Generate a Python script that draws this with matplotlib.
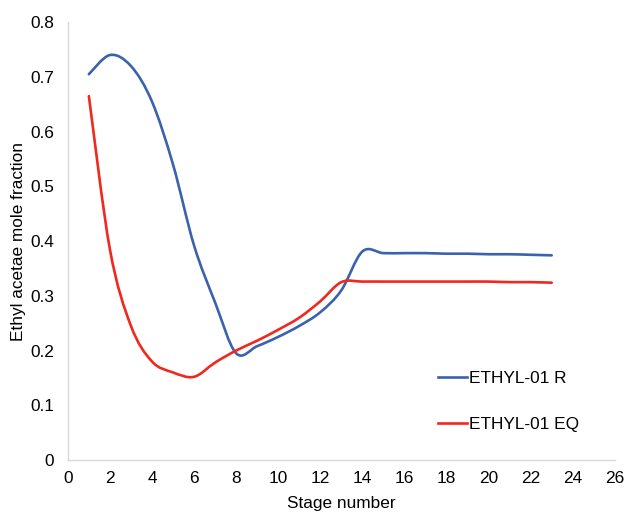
import numpy as np
import matplotlib.pyplot as plt
from matplotlib.path import Path
from matplotlib.patches import PathPatch
from matplotlib.lines import Line2D

plt.rcParams['font.family'] = ['Liberation Sans', 'DejaVu Sans']

# stage numbers and mole fractions for the two column models
stages = list(range(1, 24))
rate_based = [0.705, 0.740, 0.720, 0.655, 0.540, 0.392, 0.288, 0.195, 0.208,
              0.225, 0.245, 0.270, 0.310, 0.381, 0.378, 0.378, 0.378, 0.377,
              0.377, 0.376, 0.376, 0.375, 0.374]
equilibrium = [0.665, 0.385, 0.245, 0.180, 0.160, 0.152, 0.178, 0.200, 0.218,
               0.238, 0.260, 0.290, 0.325, 0.326, 0.326, 0.326, 0.326, 0.326,
               0.326, 0.326, 0.325, 0.325, 0.324]
labels = ['ETHYL-01 R', 'ETHYL-01 EQ']
colors = ['#3a62ad', '#f0281e']

fs = 12.4


def smooth_path(x, y):
    # bezier segments through every point, like a spreadsheet "smoothed line"
    pts = np.column_stack([x, y]).astype(float)
    n = len(pts)
    verts = [pts[0]]
    codes = [Path.MOVETO]
    for i in range(n - 1):
        p0 = pts[max(i - 1, 0)]
        p1 = pts[i]
        p2 = pts[i + 1]
        p3 = pts[min(i + 2, n - 1)]
        c1 = p1 + (p2 - p0) / 6.0
        c2 = p2 - (p3 - p1) / 6.0
        verts += [c1, c2, p2]
        codes += [Path.CURVE4] * 3
    return Path(verts, codes)


fig = plt.figure(figsize=(6.28, 5.12), dpi=100)
ax = fig.add_axes([0.108, 0.1016, 0.871, 0.855])

handles = []
for ys, lab, col in zip([rate_based, equilibrium], labels, colors):
    patch = PathPatch(smooth_path(stages, ys), facecolor='none', edgecolor=col,
                      lw=1.9, capstyle='round', joinstyle='round')
    ax.add_patch(patch)
    handles.append(Line2D([], [], color=col, lw=1.9))

ax.set_xlim(0, 26)
ax.set_ylim(0, 0.8)
ax.set_xticks(np.arange(0, 27, 2))
ax.set_yticks(np.arange(0, 0.81, 0.1))
ax.set_yticklabels(['0', '0.1', '0.2', '0.3', '0.4', '0.5', '0.6', '0.7', '0.8'])

for s in ['top', 'right']:
    ax.spines[s].set_visible(False)
for s in ['left', 'bottom']:
    ax.spines[s].set_color('#d9d9d9')
    ax.spines[s].set_linewidth(1.0)

ax.tick_params(axis='both', length=0, labelsize=fs, colors='black')
ax.tick_params(axis='x', pad=8)
ax.tick_params(axis='y', pad=10)

ax.set_xlabel('Stage number', fontsize=fs, labelpad=7)
ax.set_ylabel('Ethyl acetae mole fraction', fontsize=fs, labelpad=3)

ax.legend(handles, labels, loc='upper left', bbox_to_anchor=(0.672, 0.305),
          bbox_transform=fig.transFigure, frameon=False, fontsize=fs,
          handlelength=1.7, handletextpad=0.15, labelspacing=1.75)

fig.savefig('out.png', dpi=100)
